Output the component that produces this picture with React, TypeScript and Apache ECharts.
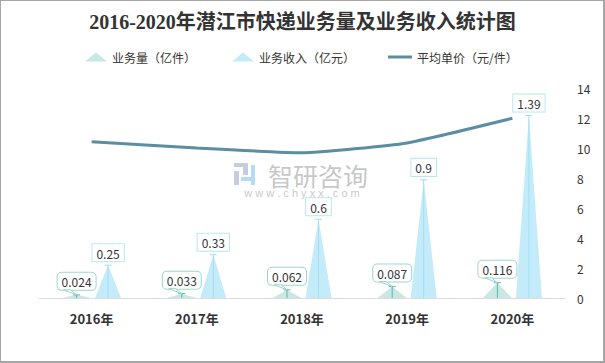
import React, { useEffect, useRef } from "react";
import * as echarts from "echarts";

const years = ["2016年", "2017年", "2018年", "2019年", "2020年"];
const volume = [0.024, 0.033, 0.062, 0.087, 0.116];
const revenue = [0.25, 0.33, 0.6, 0.9, 1.39];
const unitPrice = [10.42, 10.0, 9.68, 10.34, 11.98];
const rightAxis = { min: 0, max: 14, interval: 2 };
const leftAxis = { min: 0, max: 1.6 };

const FONT = "'Noto Sans CJK SC', 'Noto Sans', sans-serif";

export default function App() {
  const ref = useRef<HTMLDivElement>(null);
  useEffect(() => {
    document.body.style.margin = "0";
    const chart = echarts.init(ref.current!, null, { renderer: "svg" });

    const stemSeries = (name: string, values: number[], offset: number, color: string, tail: boolean) => ({
      name,
      type: "custom",
      xAxisIndex: 0,
      yAxisIndex: 0,
      z: 5,
      silent: true,
      data: values.map((v, i) => [i, v]),
      encode: { x: 0, y: 1 },
      renderItem: (params: any, api: any) => {
        const idx = api.value(0);
        const v = api.value(1);
        const base = api.coord([idx, 0]);
        const top = api.coord([idx, v]);
        const x = base[0] + offset;
        const children: any[] = [
          { type: "line", shape: { x1: x, y1: base[1], x2: x, y2: top[1] }, style: { stroke: color, lineWidth: 1 } },
          { type: "line", shape: { x1: x - 3.5, y1: top[1], x2: x + 3.5, y2: top[1] }, style: { stroke: color, lineWidth: 1 } },
        ];
        if (tail) {
          children.push({
            type: "polygon",
            shape: { points: [[x - 13, top[1] - 5], [x - 6, top[1] - 5], [x, top[1]]] },
            style: { fill: "#fff", stroke: "#9dd6cf", lineWidth: 1 },
          });
        }
        return { type: "group", children };
      },
    });

    chart.setOption({
      animation: false,
      textStyle: { fontFamily: FONT },
      title: {
        text: "2016-2020年潜江市快递业务量及业务收入统计图",
        left: "center",
        top: 7,
        textStyle: { fontSize: 20, fontWeight: "bold", color: "#333", fontFamily: "'Liberation Serif', 'Noto Sans CJK SC', serif" },
      },
      legend: [
        {
          top: 46,
          left: 80,
          itemWidth: 22,
          itemHeight: 9,
          itemGap: 36,
          textStyle: { fontSize: 12, color: "#333" },
          data: [
            { name: "业务量（亿件）", icon: "triangle" },
            { name: "业务收入（亿元）", icon: "triangle" },
          ],
        },
        {
          top: 46,
          left: 383,
          itemWidth: 24,
          itemHeight: 3,
          textStyle: { fontSize: 12, color: "#333" },
          data: [{ name: "平均单价（元/件）", icon: "rect" }],
        },
      ],
      graphic: [
        { type: "rect", shape: { x: 234, y: 163, width: 9, height: 4 }, style: { fill: "#c5cde0" } },
        { type: "rect", shape: { x: 243, y: 163, width: 5, height: 12 }, style: { fill: "#c5cde0" } },
        { type: "rect", shape: { x: 234, y: 171, width: 5, height: 14 }, style: { fill: "#c5cde0" } },
        { type: "rect", shape: { x: 241, y: 177, width: 14, height: 4 }, style: { fill: "#b6dcf4" } },
        { type: "rect", shape: { x: 251, y: 165, width: 4, height: 20 }, style: { fill: "#b6dcf4" } },
        {
          type: "text",
          x: 318,
          y: 181,
          style: {
            text: "{a|智研咨询}\n{b|w w w . c h y x x . c o m}",
            align: "center",
            verticalAlign: "middle",
            rich: {
              a: { fontSize: 25, lineHeight: 24, fill: "rgba(150,150,150,0.55)", fontFamily: FONT },
              b: { fontSize: 11, lineHeight: 12, fill: "rgba(150,150,150,0.55)", fontFamily: "'Liberation Sans', sans-serif", padding: [0, 32, 0, 0] },
            },
          },
        },
      ],
      grid: { left: 39, right: 40, top: 88, bottom: 65 },
      xAxis: {
        type: "category",
        data: years,
        axisLine: { lineStyle: { color: "#dcdcdc" } },
        axisTick: { show: false },
        axisLabel: { fontSize: 13, fontWeight: "bold", color: "#333", margin: 14 },
      },
      yAxis: [
        { type: "value", min: leftAxis.min, max: leftAxis.max, show: false, splitLine: { show: false } },
        {
          type: "value",
          position: "right",
          min: rightAxis.min,
          max: rightAxis.max,
          interval: rightAxis.interval,
          splitLine: { show: false },
          axisLine: { show: false },
          axisTick: { show: false },
          axisLabel: { fontSize: 12, color: "#333", margin: 12 },
        },
      ],
      series: [
        {
          name: "业务量（亿件）",
          type: "pictorialBar",
          symbol: "triangle",
          barWidth: 29,
          barGap: "13.8%",
          yAxisIndex: 0,
          z: 2,
          itemStyle: { color: "#c9e8e4" },
          label: {
            show: true,
            position: "top",
            distance: 5,
            fontSize: 12,
            color: "#333",
            backgroundColor: "#fff",
            borderColor: "#9dd6cf",
            borderWidth: 1,
            borderRadius: 4,
            padding: [3, 4, 2, 4],
          },
          data: volume,
        },
        {
          name: "业务收入（亿元）",
          type: "pictorialBar",
          symbol: "triangle",
          barWidth: 26,
          barGap: "13.8%",
          yAxisIndex: 0,
          z: 2,
          itemStyle: { color: "#c3ebfa" },
          label: {
            show: true,
            position: "top",
            distance: 4,
            fontSize: 12,
            color: "#333",
            backgroundColor: "#fff",
            borderColor: "#b9e6f6",
            borderWidth: 1,
            padding: [3, 4, 2, 4],
          },
          data: revenue,
        },
        {
          name: "平均单价（元/件）",
          type: "line",
          yAxisIndex: 1,
          smooth: 0.15,
          symbol: "none",
          z: 4,
          lineStyle: { color: "#5a8ea2", width: 3 },
          itemStyle: { color: "#5a8ea2" },
          data: unitPrice,
        },
        stemSeries("stemVolume", volume, -15, "#5cb7ab", true),
        stemSeries("stemRevenue", revenue, 16.5, "#a3def2", false),
      ],
    });
    return () => chart.dispose();
  }, []);

  return (
    <div style={{ position: "relative", width: 605, height: 363 }}>
      <div ref={ref} style={{ position: "absolute", left: 0, top: 0, width: 605, height: 363 }} />
      <div
        style={{
          position: "absolute",
          left: 0,
          top: 0,
          width: 605,
          height: 363,
          boxSizing: "border-box",
          borderTop: "1px solid #a6a6a6",
          borderLeft: "1px solid #a6a6a6",
          borderRight: "2px solid #a6a6a6",
          borderBottom: "2px solid #a6a6a6",
          pointerEvents: "none",
        }}
      />
    </div>
  );
}
